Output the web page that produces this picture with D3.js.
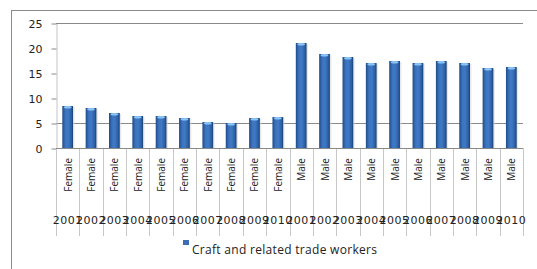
<!DOCTYPE html>
<html>
<head>
<meta charset="utf-8">
<script src="https://cdn.jsdelivr.net/npm/d3@7"></script>
<style>
  body { margin: 0; background: #fff; }
  svg { display: block; }
</style>
</head>
<body>
<script>
// data
var genders = ["Female","Female","Female","Female","Female","Female","Female","Female","Female","Female",
               "Male","Male","Male","Male","Male","Male","Male","Male","Male","Male"];
var years = ["2001","2002","2003","2004","2005","2006","2007","2008","2009","2010",
             "2001","2002","2003","2004","2005","2006","2007","2008","2009","2010"];
var values = [8.4, 8.0, 7.0, 6.4, 6.4, 6.0, 5.2, 5.0, 6.0, 6.2,
              21.0, 18.8, 18.2, 17.0, 17.4, 17.0, 17.4, 17.0, 16.0, 16.2];
var yTicks = [0, 5, 10, 15, 20, 25];
var gridTicks = [5, 25];
var seriesName = "Craft and related trade workers";

var W = 537, H = 269;
var margin = {left:56, top:23, right:14, bottom:121};

var svg = d3.select("body").append("svg")
    .attr("width", W)
    .attr("height", H);

var defs = svg.append("defs");
var grad = defs.append("linearGradient").attr("id","barGrad")
    .attr("x1","0").attr("x2","1").attr("y1","0").attr("y2","0");
grad.append("stop").attr("offset","0%").attr("stop-color","#1f4c88");
grad.append("stop").attr("offset","30%").attr("stop-color","#3c74bf");
grad.append("stop").attr("offset","55%").attr("stop-color","#3f78c3");
grad.append("stop").attr("offset","85%").attr("stop-color","#2b5ea3");
grad.append("stop").attr("offset","100%").attr("stop-color","#173d70");

// outer chart border
svg.append("rect")
    .attr("x", 11.5).attr("y", 10.5)
    .attr("width", W).attr("height", H)
    .attr("fill", "none").attr("stroke", "#8c8c8c");

var x0 = margin.left, x1 = W - margin.right;
var yTop = margin.top, yBot = H - margin.bottom;

var xScale = d3.scaleBand().domain(d3.range(values.length)).range([x0, x1]).padding(0);
var yScale = d3.scaleLinear().domain([0, 25]).range([yBot, yTop]);

// gridlines
svg.append("g").selectAll("line").data(gridTicks).enter().append("line")
    .attr("x1", x0).attr("x2", x1)
    .attr("y1", d => Math.round(yScale(d)) + 0.5)
    .attr("y2", d => Math.round(yScale(d)) + 0.5)
    .attr("stroke", "#8a8a8a");

// y axis
var yAxis = svg.append("g")
    .attr("transform", "translate(" + (x0 + 0.5) + ",0.5)")
    .call(d3.axisLeft(yScale).tickValues(yTicks).tickSize(5).tickPadding(9).tickSizeOuter(0));
yAxis.select(".domain").attr("stroke", "#c4c4c4");
yAxis.selectAll(".tick line").attr("stroke", "#8a8a8a");
yAxis.selectAll("text")
    .attr("font-family", "DejaVu Sans")
    .attr("font-size", "11px")
    .attr("fill", "#222");

// category separators below axis
var bounds = d3.range(values.length + 1).map(i => i < values.length ? xScale(i) : x1);
svg.append("g").selectAll("line").data(bounds).enter().append("line")
    .attr("x1", d => Math.round(d) + 0.5).attr("x2", d => Math.round(d) + 0.5)
    .attr("y1", yBot).attr("y2", 236)
    .attr("stroke", "#c8c8c8");

// bars
var bw = xScale.bandwidth() * 0.46;
var bars = svg.append("g").selectAll("g").data(values).enter().append("g");
bars.append("rect")
    .attr("x", (d, i) => xScale(i) + (xScale.bandwidth() - bw) / 2 + 1.5)
    .attr("y", d => yScale(d) + 1)
    .attr("width", bw)
    .attr("height", d => yBot - yScale(d) - 1)
    .attr("fill", "#d9d9d9")
    .attr("opacity", 0.6);
bars.append("rect")
    .attr("x", (d, i) => xScale(i) + (xScale.bandwidth() - bw) / 2)
    .attr("y", d => yScale(d))
    .attr("width", bw)
    .attr("height", d => yBot - yScale(d))
    .attr("fill", "url(#barGrad)");
bars.append("ellipse")
    .attr("cx", (d, i) => xScale(i) + xScale.bandwidth() / 2)
    .attr("cy", d => yScale(d) + 1.2)
    .attr("rx", bw / 2 - 1.5)
    .attr("ry", 1.3)
    .attr("fill", "#8cc4f5");

// x axis line
svg.append("line")
    .attr("x1", x0).attr("x2", x1)
    .attr("y1", yBot + 0.5).attr("y2", yBot + 0.5)
    .attr("stroke", "#8a8a8a");

// gender labels (rotated)
svg.append("g").selectAll("text").data(genders).enter().append("text")
    .attr("transform", (d, i) => "translate(" + (xScale(i) + xScale.bandwidth() / 2 + 4) + ",158) rotate(-90)")
    .attr("text-anchor", "end")
    .attr("font-family", "Open Sans")
    .attr("font-size", "10px")
    .attr("fill", "#222")
    .text(d => d);

// year labels (they overlap in the original)
svg.append("g").selectAll("text").data(years).enter().append("text")
    .attr("x", (d, i) => xScale(i) + xScale.bandwidth() / 2)
    .attr("y", 224)
    .attr("text-anchor", "middle")
    .attr("font-family", "DejaVu Sans")
    .attr("font-size", "11px")
    .attr("letter-spacing", "0.5px")
    .attr("fill", "#222")
    .text(d => d);

// legend
var lg = svg.append("g").attr("transform", "translate(183,240)");
lg.append("rect").attr("width", 6).attr("height", 5).attr("fill", "#3a6db3");
lg.append("text")
    .attr("x", 9).attr("y", 14)
    .attr("font-family", "Open Sans")
    .attr("font-size", "12px")
    .attr("letter-spacing", "0.3px")
    .attr("fill", "#222")
    .text(seriesName);
</script>
</body>
</html>
